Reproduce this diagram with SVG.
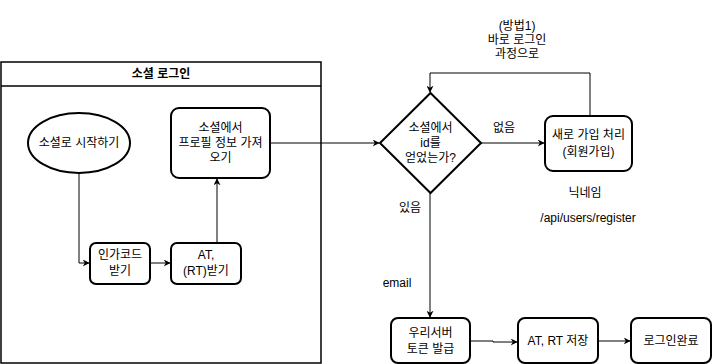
<svg xmlns="http://www.w3.org/2000/svg" width="713" height="364" viewBox="0 0 713 364">
<defs>
<marker id="arr" viewBox="0 0 10 10" refX="9" refY="5" markerWidth="7" markerHeight="7" markerUnits="userSpaceOnUse" orient="auto">
<path d="M0,0 L10,5 L0,10 L3,5 Z" fill="#000"/>
</marker>
</defs>
<style>
text{font-family:"Liberation Sans","Noto Sans CJK KR",sans-serif;font-size:12px;fill:#000;text-anchor:middle;dominant-baseline:central}
.node{fill:#fff;stroke:#000;stroke-width:2}
.edge{fill:none;stroke:#000;stroke-width:1;marker-end:url(#arr)}
</style>
<rect width="713" height="364" fill="#fff"/>
<g id="container">
<rect x="1" y="62" width="320" height="301" fill="#fff" stroke="#000" stroke-width="1.5"/>
<line x1="1" y1="86" x2="321" y2="86" stroke="#000" stroke-width="1.5"/>
<text x="161" y="74" font-weight="bold">소셜 로그인</text>
</g>
<g id="connectors">
<path class="edge" d="M79,173 L79,263 L89,263"/>
<path class="edge" d="M150,263 L170,263"/>
<path class="edge" d="M217,243 L217,179"/>
<path class="edge" d="M270,143 L379,143"/>
<path class="edge" d="M481,143 L544,143"/>
<path class="edge" d="M590,116 L590,73 L430,73 L430,92"/>
<path class="edge" d="M430,193 L430,317"/>
<path class="edge" d="M470,341 L493,341 L493,342 L517,342"/>
<path class="edge" d="M598,341 L630,341"/>
</g>
<g id="start">
<ellipse class="node" cx="79" cy="143" rx="51" ry="30"/>
<text x="79" y="143">소셜로 시작하기</text>
</g>
<g id="authcode">
<rect class="node" x="90" y="243" width="60" height="41" rx="6"/>
<text x="120" y="255">인가코드</text>
<text x="120" y="271">받기</text>
</g>
<g id="token">
<rect class="node" x="171" y="243" width="70" height="41" rx="6"/>
<text x="206" y="255">AT,</text>
<text x="206" y="271">(RT)받기</text>
</g>
<g id="profile">
<rect class="node" x="171" y="108" width="99" height="70" rx="8"/>
<text x="220.5" y="128">소셜에서</text>
<text x="220.5" y="143">프로필 정보 가져</text>
<text x="220.5" y="158">오기</text>
</g>
<g id="decision">
<polygon class="node" points="430.5,93 481,143 430.5,193 380,143"/>
<text x="430.5" y="128">소셜에서</text>
<text x="430.5" y="143">id를</text>
<text x="430.5" y="158">얻었는가?</text>
</g>
<g id="signup">
<rect class="node" x="545" y="116" width="87" height="55" rx="8"/>
<text x="588.5" y="135">새로 가입 처리</text>
<text x="588.5" y="152">(회원가입)</text>
</g>
<g id="issue">
<rect class="node" x="391" y="318" width="79" height="45" rx="7"/>
<text x="430.5" y="333">우리서버</text>
<text x="430.5" y="349">토큰 발급</text>
</g>
<g id="save">
<rect class="node" x="518" y="318" width="80" height="45" rx="7"/>
<text x="558" y="341">AT, RT 저장</text>
</g>
<g id="done">
<rect class="node" x="631" y="318" width="80" height="45" rx="7"/>
<text x="671" y="341">로그인완료</text>
</g>
<g id="labels">
<text x="517" y="26">(방법1)</text>
<text x="517" y="40">바로 로그인</text>
<text x="517" y="54">과정으로</text>
<text x="504" y="128">없음</text>
<text x="410" y="208">있음</text>
<text x="585" y="193">닉네임</text>
<text x="588" y="218">/api/users/register</text>
<text x="397" y="283">email</text>
</g>
</svg>
